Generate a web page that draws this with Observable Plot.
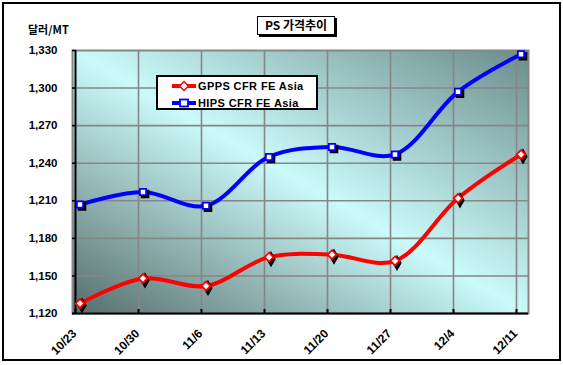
<!DOCTYPE html>
<html>
<head>
<meta charset="utf-8">
<script src="https://cdn.jsdelivr.net/npm/d3@7"></script>
<script src="https://cdn.jsdelivr.net/npm/@observablehq/plot@0.6"></script>
<style>
  html, body { margin: 0; padding: 0; background: #fff; }
  #wrap { position: relative; width: 563px; height: 365px; overflow: hidden;
    font-family: "Liberation Sans", Arial, sans-serif; font-weight: bold; }
  #border { position: absolute; left: 2px; top: 2px; width: 559px; height: 359px;
    box-sizing: border-box; border: 2px solid #000; pointer-events: none; }
  #ylab { position: absolute; left: 28px; top: 21px; font-size: 11px;
    font-family: "Noto Sans CJK KR", "Liberation Sans", sans-serif; font-weight: bold; }
  #title { position: absolute; left: 257px; top: 16px; width: 78px; height: 19px;
    box-sizing: border-box; border: 1.5px solid #000; background: #fff;
    box-shadow: 2px 2px 0 #000; font-size: 12px; text-align: center; line-height: 16px;
    font-family: "Noto Sans CJK KR", "Liberation Sans", sans-serif; font-weight: bold; }
  #legend { position: absolute; left: 156px; top: 75px; width: 162px; height: 35px;
    box-sizing: border-box; border: 2px solid #000; background: #fff; }
  .lrow { position: absolute; left: 14px; height: 16px; display: flex; align-items: center;
    font-size: 11px; letter-spacing: 0.4px; }
  .lrow svg { margin-right: 2px; }
  svg.plot { position: absolute; left: 0; top: 0; }
</style>
</head>
<body>
<div id="wrap">
  <div id="ylab">달러/MT</div>
  <div id="title">PS 가격추이</div>
  <div id="legend"></div>
  <div id="border"></div>
</div>
<script>
const dates = ["10/23","10/30","11/6","11/13","11/20","11/27","12/4","12/11"];
const gpps = [1128,1148,1142,1165,1167,1162,1212,1247];
const hips = [1207,1217,1206,1245,1253,1247,1297,1327];
const yTicks = [1120,1150,1180,1210,1240,1270,1300,1330];
const seriesNames = ["GPPS CFR FE Asia","HIPS CFR FE Asia"];
const seriesColors = ["#ff0000","#0000ff"];
const seriesSymbols = ["diamond2","square2"];

const rows = [];
dates.forEach((d,i) => {
  rows.push({date:d, value:gpps[i], series:seriesNames[0]});
  rows.push({date:d, value:hips[i], series:seriesNames[1]});
});

const marks = [
  Plot.frame({fill: "url(#bgGrad)", stroke: "#868686", strokeWidth: 2}),
  Plot.gridY(yTicks.slice(1, -1), {stroke: "#868686", strokeOpacity: 1, strokeWidth: 1.6}),
  Plot.ruleX(dates.slice(1), {stroke: "#868686", strokeWidth: 1.6}),
  Plot.ruleX([dates[0]], {stroke: "#000", strokeWidth: 2}),
  Plot.ruleY([1120], {stroke: "#000", strokeWidth: 2}),
  Plot.axisX({tickSize: -4, tickFormat: () => "", stroke: "#000", strokeWidth: 2}),
  Plot.axisY(yTicks, {tickSize: -4, tickFormat: () => "", stroke: "#000", strokeWidth: 1.5}),
  Plot.axisX({tickSize: 0, tickPadding: 15, tickRotate: -45, fontSize: 12, fontWeight: "bold", fill: "#000", dx: -1, dy: 3}),
  Plot.axisY(yTicks, {tickSize: 0, tickPadding: 15, fontSize: 11.5, fontWeight: "bold", fill: "#000",
    tickFormat: d3.format(","), label: null}),
];
seriesNames.forEach((s, k) => {
  const data = rows.filter(r => r.series === s);
  marks.push(Plot.line(data, {x: "date", y: "value", stroke: seriesColors[k], strokeWidth: 4,
    curve: "catmull-rom", dx: 4.5}));
  marks.push(Plot.dot(data, {x: "date", y: "value", symbol: seriesSymbols[k].replace("2",""),
    fill: "#000", stroke: "#000", r: 4, dx: 6.5, dy: 2}));
  marks.push(Plot.dot(data, {x: "date", y: "value", symbol: seriesSymbols[k], fill: "#fff",
    stroke: seriesColors[k], strokeWidth: 1.8, r: 4, dx: 4.5}));
});

const chart = Plot.plot({
  width: 563, height: 365,
  marginLeft: 72, marginRight: 35, marginTop: 50, marginBottom: 52,
  style: {background: "transparent", fontFamily: "'Liberation Sans', Arial, sans-serif", fontWeight: "bold", overflow: "visible"},
  x: {type: "point", domain: dates, range: [72.5, 519], padding: 0, label: null},
  y: {domain: [1120, 1330], label: null},
  marks
});
chart.classList.add("plot");
const defs = d3.select(chart).insert("defs", ":first-child");
const g = defs.append("linearGradient").attr("id", "bgGrad")
  .attr("x1", 0).attr("y1", 1).attr("x2", 1).attr("y2", 0);
g.append("stop").attr("offset", 0).attr("stop-color", "#566d6b");
g.append("stop").attr("offset", 0.5).attr("stop-color", "#cbfafa");
g.append("stop").attr("offset", 1).attr("stop-color", "#6a8c8b");
document.getElementById("wrap").insertBefore(chart, document.getElementById("ylab"));

// legend
const legend = document.getElementById("legend");
seriesNames.forEach((s, k) => {
  const row = document.createElement("div");
  row.className = "lrow";
  row.style.top = (k === 0 ? 1 : 18) + "px";
  const sw = d3.create("svg").attr("width", 24).attr("height", 12);
  sw.append("line").attr("x1", 0).attr("x2", 24).attr("y1", 6).attr("y2", 6)
    .attr("stroke", seriesColors[k]).attr("stroke-width", 4);
  if (k === 0) {
    sw.append("path").attr("d", "M12,1.5L16.5,6L12,10.5L7.5,6Z").attr("fill", "#fff")
      .attr("stroke", seriesColors[k]).attr("stroke-width", 1.5);
  } else {
    sw.append("rect").attr("x", 8).attr("y", 2.5).attr("width", 8).attr("height", 7)
      .attr("fill", "#fff").attr("stroke", seriesColors[k]).attr("stroke-width", 1.8);
  }
  row.appendChild(sw.node());
  const t = document.createElement("span");
  t.textContent = s;
  row.appendChild(t);
  legend.appendChild(row);
});
</script>
</body>
</html>
